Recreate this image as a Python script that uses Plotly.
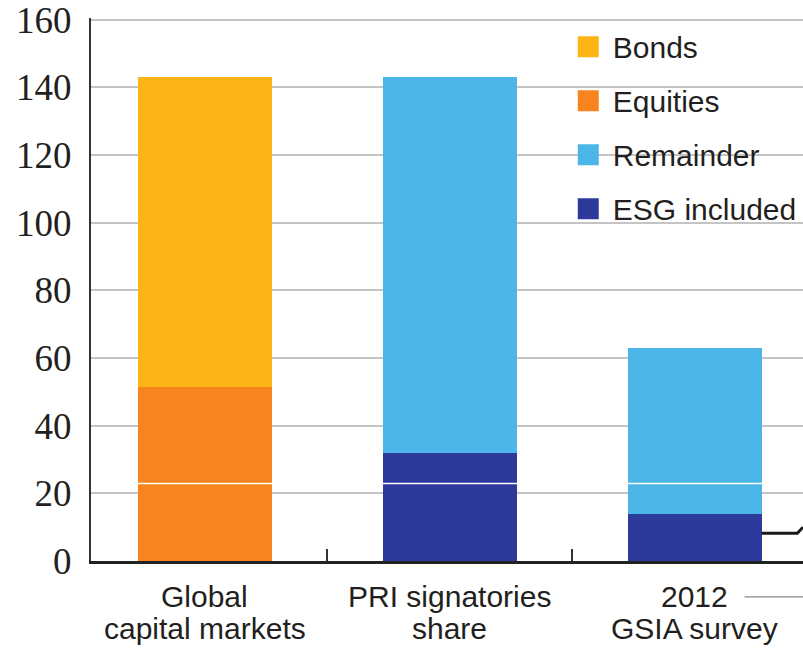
import plotly.graph_objects as go

categories = ["Global capital markets", "PRI signatories share", "2012 GSIA survey"]
label_line1 = ["Global", "PRI signatories", "2012"]
label_line2 = ["capital markets", "share", "GSIA survey"]

equities = [51.5, None, None]
bonds = [91.5, None, None]
esg_included = [None, 32, 14]
remainder = [None, 111, 49]

y_ticks = [0, 20, 40, 60, 80, 100, 120, 140, 160]

colors = {
    "Bonds": "#FDB515",
    "Equities": "#F7841E",
    "Remainder": "#4DB6E8",
    "ESG included": "#2D3A9C",
}

fig = go.Figure()

# stacked bars (bottom to top)
fig.add_trace(go.Bar(x=categories, y=equities, marker=dict(color=colors["Equities"], line=dict(width=0)),
                     width=0.55, showlegend=False, name="Equities"))
fig.add_trace(go.Bar(x=categories, y=esg_included, marker=dict(color=colors["ESG included"], line=dict(width=0)),
                     width=0.55, showlegend=False, name="ESG included"))
fig.add_trace(go.Bar(x=categories, y=bonds, marker=dict(color=colors["Bonds"], line=dict(width=0)),
                     width=0.55, showlegend=False, name="Bonds"))
fig.add_trace(go.Bar(x=categories, y=remainder, marker=dict(color=colors["Remainder"], line=dict(width=0)),
                     width=0.55, showlegend=False, name="Remainder"))

# legend entries with large square swatches
for name in ["Bonds", "Equities", "Remainder", "ESG included"]:
    fig.add_trace(go.Scatter(x=[None], y=[None], mode="markers", name=name, legendgroup=name,
                             marker=dict(symbol="square", size=16, color=colors[name],
                                         line=dict(width=5, color=colors[name]))))

label_font = dict(family="Liberation Sans, Arial, sans-serif", size=30, color="#231f20")

annotations = []
for c, l1, l2 in zip(categories, label_line1, label_line2):
    annotations.append(dict(x=c, xref="x", y=0, yref="paper", text=l1, showarrow=False,
                            yanchor="middle", yshift=-35, font=label_font))
    annotations.append(dict(x=c, xref="x", y=0, yref="paper", text=l2, showarrow=False,
                            yanchor="middle", yshift=-67, font=label_font))

shapes = [
    # faint white scan line across the plot
    dict(type="line", xref="paper", yref="y", x0=0, x1=1, y0=22.9, y1=22.9,
         line=dict(color="white", width=1.5), layer="above"),
    # cut-off bracket at the right edge
    dict(type="path", xref="paper", yref="y",
         path="M 0.942,8.2 L 0.992,8.2 L 1.0,10.0",
         line=dict(color="#1a1a1a", width=3), layer="above"),
    # leader line next to "2012"
    dict(type="line", xref="paper", yref="paper", x0=0.918, x1=1.0, y0=-0.066, y1=-0.066,
         line=dict(color="#8a8a8a", width=1.2)),
]

fig.update_layout(
    width=803, height=649,
    margin=dict(l=91, r=0, t=15, b=88, pad=0),
    barmode="stack",
    plot_bgcolor="white", paper_bgcolor="white",
    showlegend=True,
    legend=dict(x=0.664, y=0.995, xanchor="left", yanchor="top",
                bgcolor="rgba(0,0,0,0)", borderwidth=0,
                font=dict(family="Liberation Sans, Arial, sans-serif", size=30, color="#231f20"),
                itemwidth=39, tracegroupgap=12, traceorder="grouped"),
    annotations=annotations,
    shapes=shapes,
    xaxis=dict(type="category", categoryorder="array", categoryarray=categories,
               range=[-0.4653, 2.441], showticklabels=False,
               tickson="boundaries", ticks="inside", ticklen=12, tickwidth=1.5, tickcolor="#333",
               showline=True, linecolor="#222", linewidth=2.5, showgrid=False, zeroline=False),
    yaxis=dict(range=[0, 160.5], tickvals=y_ticks, ticktext=[str(v) for v in y_ticks],
               showgrid=True, gridcolor="#c4c4c4", gridwidth=1.5,
               showline=True, linecolor="#333", linewidth=2, zeroline=False,
               ticks="", ticklabelstandoff=10, ticklabeloverflow="allow",
               tickfont=dict(family="Liberation Serif, Times New Roman, serif", size=37, color="#231f20")),
)

fig.write_html("out.html")
